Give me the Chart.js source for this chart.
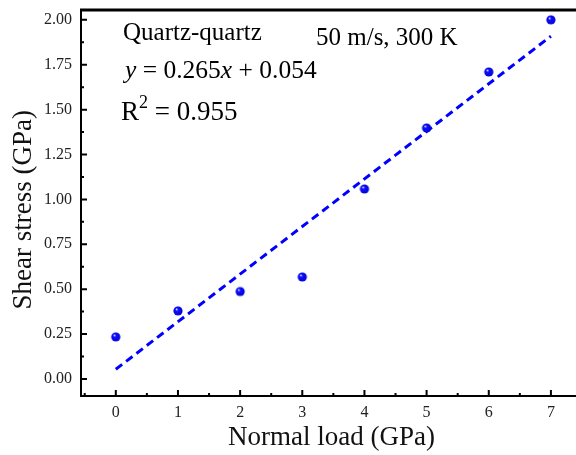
<!DOCTYPE html>
<html>
<head>
<meta charset="utf-8">
<script src="https://cdn.jsdelivr.net/npm/chart.js@4.4.1/dist/chart.umd.min.js"></script>
<style>
  html, body { margin: 0; padding: 0; background: #fff; overflow: hidden; }
  #wrap { width: 576px; height: 455px; overflow: hidden; }
</style>
</head>
<body>
<div id="wrap"><canvas id="chart" width="592" height="455"></canvas></div>
<script>
// data
const normalLoad = [0, 1, 2, 3, 4, 5, 6, 7];
const shearStress = [0.234, 0.379, 0.487, 0.568, 1.058, 1.398, 1.710, 2.000];
// linear fit y = 0.265x + 0.054, end points
const fitX = [0, 7];
const fitY = [0.054, 1.909];
const xTicks = [0, 1, 2, 3, 4, 5, 6, 7];
const yTicks = [0, 0.25, 0.5, 0.75, 1.0, 1.25, 1.5, 1.75, 2.0];

const serif = "'Liberation Serif', 'Times New Roman', serif";

// shaded ball marker
function ball(r) {
    const c = document.createElement('canvas');
    c.width = c.height = Math.ceil(r * 2 + 2);
    const g = c.getContext('2d');
    const cx = c.width / 2, cy = c.height / 2;
    const grad = g.createRadialGradient(cx - r * 0.35, cy - r * 0.4, r * 0.05, cx, cy, r);
    grad.addColorStop(0, '#e0e0ff');
    grad.addColorStop(0.3, '#1010ff');
    grad.addColorStop(1, '#0000d8');
    g.fillStyle = grad;
    g.beginPath();
    g.arc(cx, cy, r, 0, Math.PI * 2);
    g.fill();
    return c;
}

// inward ticks, box top line and text notes
const frame = {
    id: 'frame',
    afterDraw(chart) {
        const ctx = chart.ctx;
        const xs = chart.scales.x, ys = chart.scales.y;
        const a = chart.chartArea;
        ctx.save();
        ctx.strokeStyle = '#000';
        ctx.lineWidth = 2;
        ctx.beginPath();
        xTicks.forEach(v => {
            let p = xs.getPixelForValue(v);
            ctx.moveTo(p, a.bottom); ctx.lineTo(p, a.bottom - 6);
            p = xs.getPixelForValue(v + 0.5);
            ctx.moveTo(p, a.bottom); ctx.lineTo(p, a.bottom - 3);
        });
        const p0 = xs.getPixelForValue(-0.5);
        ctx.moveTo(p0, a.bottom); ctx.lineTo(p0, a.bottom - 3);
        yTicks.forEach((v, i) => {
            let p = ys.getPixelForValue(v);
            ctx.moveTo(a.left, p); ctx.lineTo(a.left + 6, p);
            if (i < yTicks.length - 1) {
                p = ys.getPixelForValue(v + 0.125);
                ctx.moveTo(a.left, p); ctx.lineTo(a.left + 3, p);
            }
        });
        ctx.stroke();
        ctx.lineWidth = 3;
        ctx.beginPath();
        ctx.moveTo(a.left - 1, a.top); ctx.lineTo(a.right, a.top);
        ctx.lineTo(a.right, a.bottom);
        ctx.stroke();

        ctx.fillStyle = '#000';
        ctx.textBaseline = 'alphabetic';
        ctx.font = '25px ' + serif;
        ctx.fillText('Quartz-quartz', 123, 40);
        ctx.fillText('50 m/s, 300 K', 316, 45);

        // equation
        let x = 125;
        const y = 78;
        const parts = [['italic ', 'y'], ['', ' = 0.265'], ['italic ', 'x'], ['', ' + 0.054']];
        parts.forEach(([st, t]) => {
            ctx.font = st + '25.5px ' + serif;
            ctx.fillText(t, x, y);
            x += ctx.measureText(t).width;
        });

        // R squared
        x = 121;
        ctx.font = '27px ' + serif;
        ctx.fillText('R', x, 120);
        x += ctx.measureText('R').width;
        ctx.font = '18px ' + serif;
        ctx.fillText('2', x, 108);
        x += ctx.measureText('2').width;
        ctx.font = '27px ' + serif;
        ctx.fillText(' = 0.955', x, 120);
        ctx.restore();
    }
};

new Chart(document.getElementById('chart'), {
    type: 'scatter',
    data: {
        datasets: [{
            label: 'Fit',
            data: fitX.map((x, i) => ({ x: x, y: fitY[i] })),
            showLine: true,
            borderColor: '#0000ff',
            borderWidth: 3,
            borderDash: [8, 5],
            pointRadius: 0,
            fill: false,
            order: 2
        }, {
            label: 'Shear stress',
            data: normalLoad.map((x, i) => ({ x: x, y: shearStress[i] })),
            pointStyle: ball(4.6),
            pointRadius: 5,
            order: 1
        }]
    },
    options: {
        responsive: false,
        animation: false,
        layout: { padding: { top: 10, right: 10, left: 0, bottom: 0 } },
        plugins: { legend: { display: false }, tooltip: { enabled: false } },
        scales: {
            x: {
                type: 'linear',
                min: -0.56,
                max: 7.5,
                afterFit: s => { s.height = 59; s.paddingLeft = 0; s.paddingRight = 0; },
                afterBuildTicks: s => { s.ticks = xTicks.map(v => ({ value: v })); },
                border: { display: true, color: '#000', width: 2 },
                grid: { drawOnChartArea: false, drawTicks: false },
                ticks: {
                    padding: 7,
                    color: '#222',
                    font: { family: serif, size: 16 },
                    callback: v => String(v)
                },
                title: {
                    display: true,
                    text: 'Normal load (GPa)',
                    color: '#111',
                    font: { family: serif, size: 27 },
                    padding: { top: 0, bottom: 1 }
                }
            },
            y: {
                min: -0.095,
                max: 2.055,
                afterFit: s => { s.width = 81; s.paddingTop = 0; s.paddingBottom = 0; },
                afterBuildTicks: s => { s.ticks = yTicks.map(v => ({ value: v })); },
                border: { display: true, color: '#000', width: 2 },
                grid: { drawOnChartArea: false, drawTicks: false },
                ticks: {
                    padding: 9,
                    color: '#222',
                    font: { family: serif, size: 16 },
                    callback: v => v.toFixed(2)
                },
                title: {
                    display: true,
                    text: 'Shear stress (GPa)\u00a0\u00a0',
                    color: '#111',
                    font: { family: serif, size: 27 },
                    padding: { top: 8, bottom: 0 }
                }
            }
        }
    },
    plugins: [frame]
});
</script>
</body>
</html>
